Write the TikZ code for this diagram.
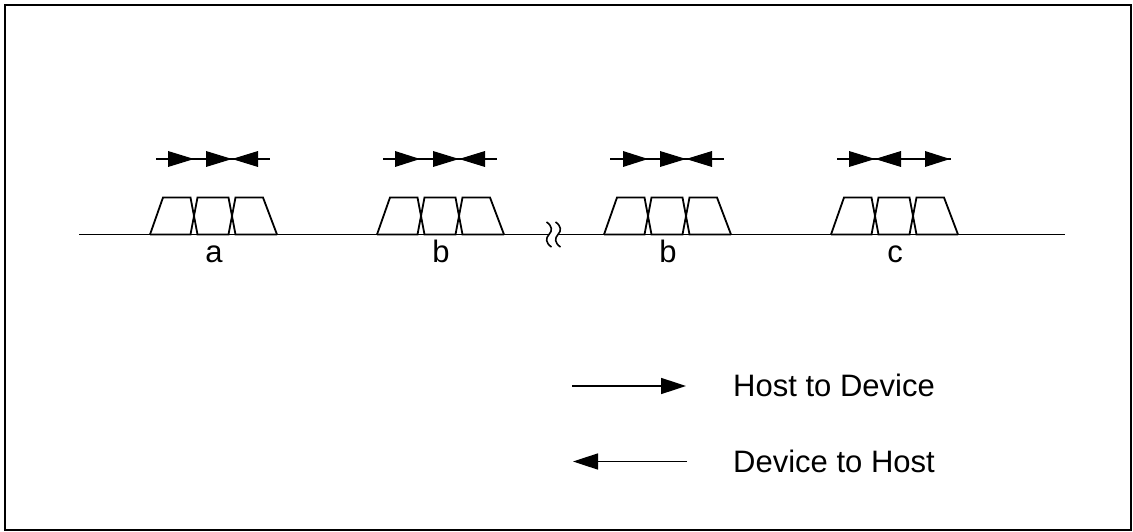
\documentclass[tikz,border=0pt]{standalone}
\usepackage{fontspec}
\setmainfont{Liberation Sans}
\usetikzlibrary{arrows.meta}
\newcommand\trih[2]{\fill (#1,151) -- (#2,159) -- (#1,167) -- cycle;}
\begin{document}
\begin{tikzpicture}[x=1pt,y=-1pt,
  wave/.style={line width=1.8pt,line join=miter},
  frame/.style={line width=2pt},
  lbl/.style={font=\fontsize{31}{36}\selectfont,inner sep=0pt,anchor=base},
  legarrow/.style={line width=1.6pt,-{Triangle[length=25pt,width=16pt]}}]
\useasboundingbox (0,0) rectangle (1133,532);
\draw[frame] (4.5,5) rectangle (1130.5,530);
% baseline with break
\draw[wave] (79,234.5) -- (549,234.5);
\draw[wave] (558,234.5) -- (1065,234.5);
\foreach \s in {549,558}{
  \draw[line width=1.6pt] (\s-2.5,222) .. controls (\s+3.5,226) and (\s+3.5,231) .. (\s,234.5)
     .. controls (\s-3.5,238) and (\s-3.5,243) .. (\s+2.5,247);
}
% packets
\foreach \x/\l in {150/a,377/b,604/b,831/c}{
  \draw[wave] (\x,234.5) -- (\x+13,197.5) -- (\x+40.5,197.5) -- (\x+47.5,234.5)
     -- (\x+78.5,234.5) -- (\x+85.5,197.5) -- (\x+113,197.5) -- (\x+127,234.5);
  \draw[wave] (\x,234.5) -- (\x+40.5,234.5) -- (\x+47.5,197.5)
     -- (\x+78.5,197.5) -- (\x+85.5,234.5) -- (\x+127,234.5);
  \node[lbl] (L\x) at (\x+64,262) {\l};
  \draw[line width=1.5pt] (\x+6,159) -- (\x+120,159);
}
% arrows a
\trih{168}{194}\trih{206}{232}\trih{258}{232}
% arrows b
\trih{395}{420}\trih{433}{459}\trih{485}{459}
% arrows b
\trih{623}{648}\trih{660}{686}\trih{712}{686}
% arrows c
\trih{849}{875}\trih{901}{875}\trih{925}{950}
% legend
\coordinate (h1) at (572,386);
\coordinate (h2) at (686,386);
\coordinate (d1) at (687,461.5);
\coordinate (d2) at (573,461.5);
\draw[legarrow] (h1) -- (h2);
\draw[legarrow] (d1) -- (d2);
\node[lbl,anchor=base west] (hd) at (733,396) {Host to Device};
\node[lbl,anchor=base west] (dh) at (733,472) {Device to Host};
\end{tikzpicture}
\end{document}
